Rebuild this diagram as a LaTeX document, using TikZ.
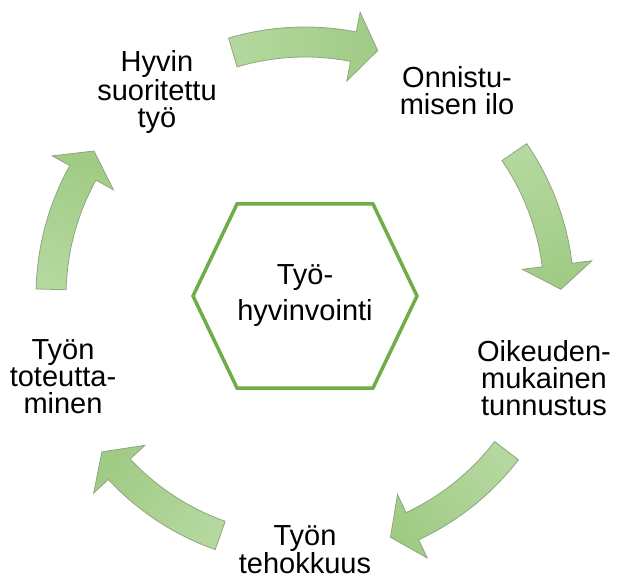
\documentclass[tikz,border=0pt]{standalone}
\usepackage{fontspec}
\setmainfont{Liberation Sans}
\usetikzlibrary{positioning}
\definecolor{hexgreen}{HTML}{70AD47}
\definecolor{arrowlight}{HTML}{B4D89E}
\definecolor{arrowdark}{HTML}{A0CB85}
\definecolor{arrowedge}{HTML}{8DA67F}
\newcommand{\stagefont}{\fontsize{29}{27}\selectfont}
\newcommand{\hubfont}{\fontsize{29}{36}\selectfont}
\tikzset{
    stage/.style={align=center, font=\stagefont, inner sep=0pt}, % the five steps round the ring
    hubline/.style={draw=hexgreen, line width=3.5pt, line join=miter}, % outline of the centre hexagon
    cyclearrow/.style={draw=arrowedge, line width=0.8pt, top color=arrowdark, bottom color=arrowlight},
}
% one bent block arrow on the ring, #1 = angle of its middle
\newcommand{\ringarrow}[1]{
    \pgfmathsetmacro\shadeang{#1-180}
    \begin{scope}[shift={(ring)}]
        \path[cyclearrow, shading angle=\shadeang]
            (#1+16.5:269pt) arc[start angle=#1+16.5, end angle=#1-11, radius=269pt]
            -- (#1-11:289pt) -- (#1-16.5:256pt) -- (#1-11:219pt) -- (#1-11:239pt)
            arc[start angle=#1-11, end angle=#1+16.5, radius=239pt] -- cycle;
    \end{scope}
}

\begin{document}
\begin{tikzpicture}[x=1pt, y=1pt]
    \useasboundingbox (0,0) rectangle (618,579);
    \coordinate (ring) at (305,283);

    % centre
    \node[font=\hubfont, align=center] (hub) at (305,283) {Työ-\\hyvinvointi};
    \draw[hubline] ([shift={(-112,0)}]hub.center) -- ([shift={(-68,92)}]hub.center)
        -- ([shift={(68,92)}]hub.center) -- ([shift={(112,0)}]hub.center)
        -- ([shift={(68,-92)}]hub.center) -- ([shift={(-68,-92)}]hub.center) -- cycle;

    % steps
    \node[stage] (suoritus) at (157,487) {Hyvin\\suoritettu\\työ};
    \node[stage] (onnistuminen) at (457,488) {Onnistu-\\misen ilo};
    \node[stage] (tunnustus) at (544,201) {Oikeuden-\\mukainen\\tunnustus};
    \node[stage] (tehokkuus) at (305,29) {Työn\\tehokkuus};
    \node[stage] (toteutus) at (63,202) {Työn\\toteutta-\\minen};

    % arrows, clockwise
    \foreach \a in {90,18,-54,-126,-198}
        \ringarrow{\a};
\end{tikzpicture}
\end{document}
